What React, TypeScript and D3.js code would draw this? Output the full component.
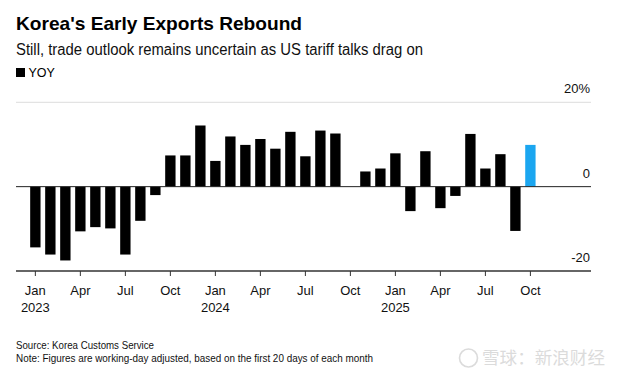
import React from "react";
import * as d3 from "d3";

const months: string[] = [
  "2023-01","2023-02","2023-03","2023-04","2023-05","2023-06","2023-07","2023-08","2023-09","2023-10","2023-11","2023-12",
  "2024-01","2024-02","2024-03","2024-04","2024-05","2024-06","2024-07","2024-08","2024-09","2024-10","2024-11","2024-12",
  "2025-01","2025-02","2025-03","2025-04","2025-05","2025-06","2025-07","2025-08","2025-09","2025-10",
];
const yoy: number[] = [
  -14.4, -16.1, -17.5, -10.6, -9.6, -9.9, -16.1, -8.1, -2.0, 7.4, 7.4, 14.5,
  6.1, 11.9, 9.9, 11.3, 9.0, 13.0, 7.2, 13.3, 12.6, 0, 3.6, 4.3,
  7.9, -5.8, 8.4, -5.1, -2.2, 12.5, 4.3, 7.7, -10.5, 9.9,
];
const highlightMonth = "2025-10";
const monthNames = ["Jan","Feb","Mar","Apr","May","Jun","Jul","Aug","Sep","Oct","Nov","Dec"];
const yTicks: number[] = [20, 0, -20];

const title = "Korea's Early Exports Rebound";
const subtitle = "Still, trade outlook remains uncertain as US tariff talks drag on";
const legendLabel = "YOY";
const source = "Source: Korea Customs Service";
const note = "Note: Figures are working-day adjusted, based on the first 20 days of each month";
const watermark = "雪球：新浪财经";

const FONT = "'Liberation Sans', Arial, Helvetica, sans-serif";

export default function App() {
  const W = 623, H = 377;
  const left = 16, right = 591;
  const x = d3.scaleLinear().domain([-1.29, 37.04]).range([left, right]);
  const y = d3.scaleLinear().domain([-20, 20]).range([271, 102.3]);
  const step = x(1) - x(0);
  const bw = step * 0.69;
  const tickIdx = months.map((_, i) => i).filter((i) => i % 3 === 0);

  return (
    <svg width={W} height={H} style={{ position: "absolute", left: 0, top: 0, background: "#fff" }} fontFamily={FONT}>
      <rect width={W} height={H} fill="#fff" />
      <text x={16} y={29.5} fontSize={18.5} fontWeight="bold" fill="#000" textLength={286} lengthAdjust="spacingAndGlyphs">{title}</text>
      <text x={16} y={55} fontSize={16} fill="#111" textLength={407} lengthAdjust="spacingAndGlyphs">{subtitle}</text>
      <rect x={16} y={68} width={9} height={9} fill="#000" />
      <text x={28.5} y={77} fontSize={12.5} fill="#000">{legendLabel}</text>

      {/* gridlines */}
      {yTicks.filter((t) => t !== 0 && t !== -20).map((t) => (
        <line key={"g" + t} x1={left} x2={right} y1={y(t)} y2={y(t)} stroke="#dcdcdc" strokeWidth={1} />
      ))}
      {yTicks.map((t) => (
        <text key={"yl" + t} x={590} y={y(t) - 9} fontSize={13} textAnchor="end" fill="#111">
          {t}
          {t === 20 ? <tspan>%</tspan> : null}
        </text>
      ))}

      {/* bars */}
      {yoy.map((v, i) => (
        <rect
          key={months[i]}
          x={x(i) - bw / 2}
          y={y(Math.max(0, v))}
          width={bw}
          height={Math.abs(y(v) - y(0))}
          fill={months[i] === highlightMonth ? "#1ba6f0" : "#000"}
        />
      ))}
      <line x1={left} x2={right} y1={y(0)} y2={y(0)} stroke="#222" strokeWidth={1} />

      {/* x axis */}
      <line x1={left} x2={right} y1={y(-20)} y2={y(-20)} stroke="#333" strokeWidth={1.3} />
      {tickIdx.map((i) => {
        const [yr, mo] = months[i].split("-");
        const m = +mo - 1;
        return (
          <g key={"t" + i}>
            <line x1={x(i)} x2={x(i)} y1={y(-20)} y2={y(-20) + 5} stroke="#333" strokeWidth={1} />
            <text x={x(i)} y={295} fontSize={13} textAnchor="middle" fill="#111">{monthNames[m]}</text>
            {m === 0 ? (
              <text x={x(i)} y={311.5} fontSize={13} textAnchor="middle" fill="#111">{yr}</text>
            ) : null}
          </g>
        );
      })}

      <text x={16} y={348.5} fontSize={11.5} fill="#111" textLength={138} lengthAdjust="spacingAndGlyphs">{source}</text>
      <text x={16} y={361.5} fontSize={11.5} fill="#111" textLength={357} lengthAdjust="spacingAndGlyphs">{note}</text>

      <g opacity={0.35}>
        <circle cx={468.5} cy={358} r={9} fill="none" stroke="#999" strokeWidth={1.6} />
        <text x={482} y={364} fontSize={17} fill="#999" fontFamily="'Noto Sans CJK SC', sans-serif" textLength={123} lengthAdjust="spacingAndGlyphs">{watermark}</text>
      </g>
    </svg>
  );
}
